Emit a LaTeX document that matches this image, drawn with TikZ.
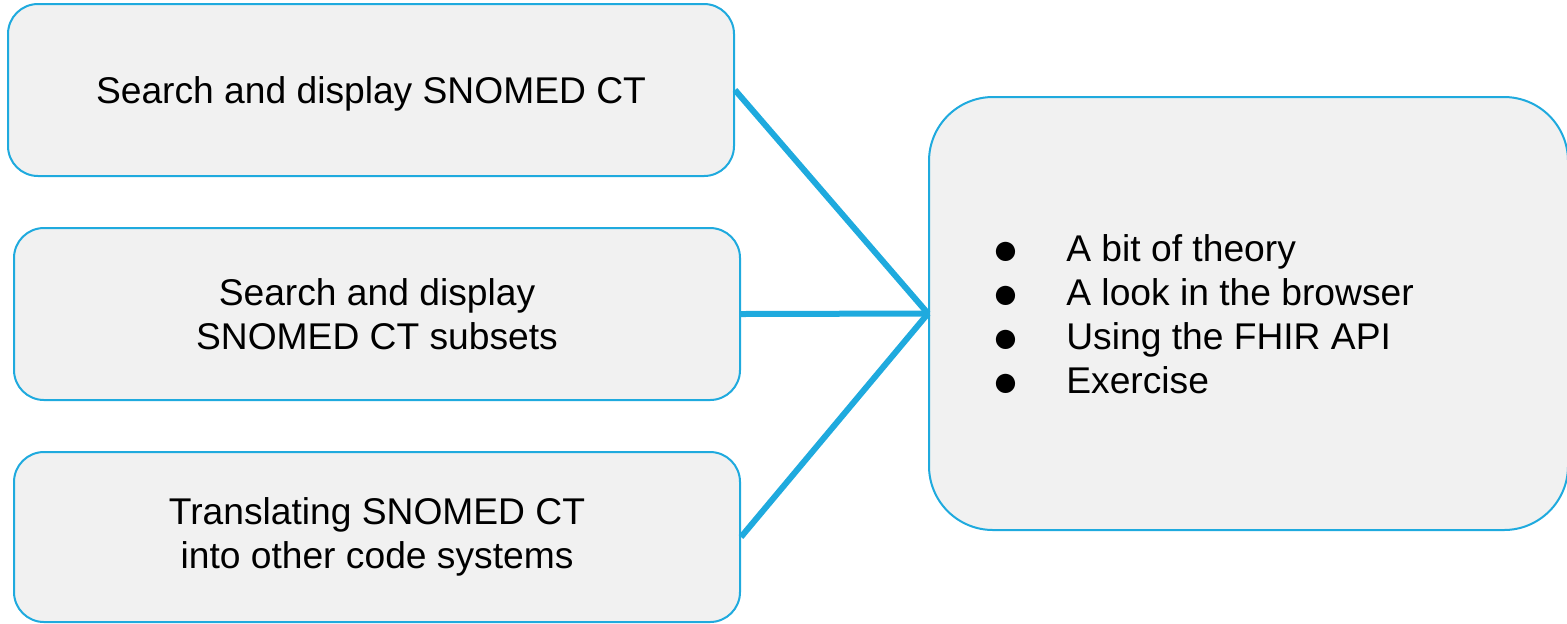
\documentclass[tikz,border=0pt]{standalone}
\usepackage{fontspec}
\setmainfont{Liberation Sans}
\definecolor{lineblue}{RGB}{31,170,222}
\definecolor{boxfill}{RGB}{241,241,241}
\newcommand{\mybul}{\raisebox{-1.2pt}{\scalebox{1.2}{●}}}
\begin{document}
\begin{tikzpicture}[x=0.5pt,y=-0.5pt,
  box/.style={draw=lineblue, line width=1pt, fill=boxfill, rounded corners=15pt,
    align=center, inner sep=0pt, font=\fontsize{18.6pt}{22pt}\selectfont},
  bigbox/.style={box, rounded corners=32pt},
  conn/.style={draw=lineblue, line width=3pt}]
\useasboundingbox (0,0) rectangle (1567,623);
\node[box, minimum width=363pt, minimum height=86pt, text depth=0pt] (b1) at (371,90) {Search and display SNOMED CT};
\node[box, minimum width=363pt, minimum height=86pt] (b2) at (377,314) {Search and display\\SNOMED CT subsets};
\node[box, minimum width=363pt, minimum height=85pt] (b3) at (377,537) {Translating SNOMED CT\\into other code systems};
\node[bigbox, minimum width=319.5pt, minimum height=216.5pt] (r) at (1248.5,313.5) {};
\node[anchor=west, inner sep=0pt, font=\fontsize{18.6pt}{22pt}\selectfont] (list) at (992,319)
  {\begin{tabular}{@{}l@{\hspace{23.5pt}}l@{}}
   \mybul & A bit of theory\\
   \mybul & A look in the browser\\
   \mybul & Using the FHIR API\\
   \mybul & Exercise
   \end{tabular}};
\draw[conn] (b1.east) -- (r.west);
\draw[conn] (b2.east) -- (r.west);
\draw[conn] (b3.east) -- (r.west);
\end{tikzpicture}
\end{document}
